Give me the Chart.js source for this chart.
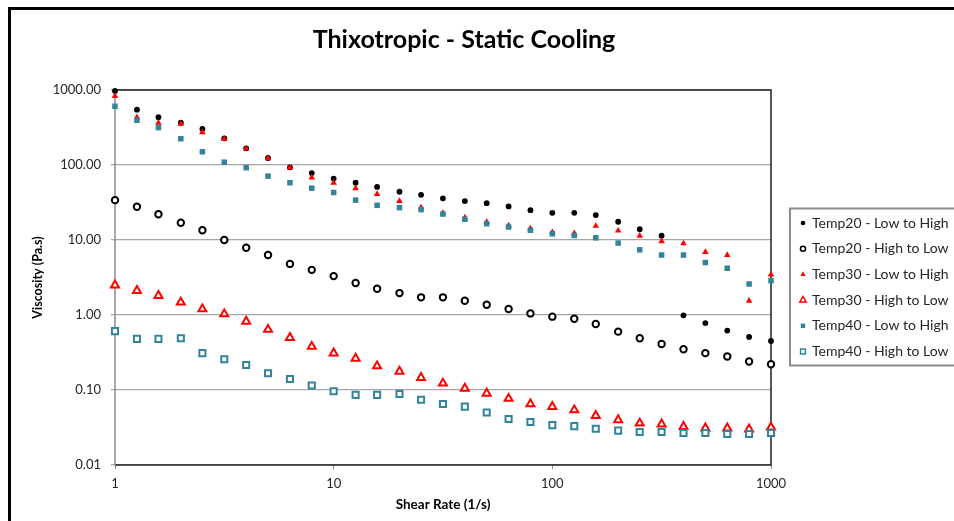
<!DOCTYPE html>
<html>
<head>
<meta charset="utf-8">
<title>Thixotropic - Static Cooling</title>
<script src="https://cdn.jsdelivr.net/npm/chart.js@4.4.1/dist/chart.umd.min.js"></script>
<style>
  body { margin: 0; background: #ffffff; }
  canvas { display: block; }
</style>
</head>
<body>
<canvas id="chart" width="954" height="521"></canvas>
<script>
// Data (shear rate in 1/s, viscosity in Pa.s)
const shearRate = [1, 1.26, 1.58, 2, 2.51, 3.16, 3.98, 5.01, 6.31, 7.94,
  10, 12.6, 15.8, 20, 25.1, 31.6, 39.8, 50.1, 63.1, 79.4,
  100, 126, 158, 200, 251, 316, 398, 501, 631, 794, 1000];

const temp20Up = [970, 547, 433, 366, 302, 227, 167, 124, 93, 78,
  66, 58, 51, 44, 40, 36, 33, 31, 28, 25,
  23, 23, 21.5, 17.5, 13.9, 11.4, 0.99, 0.78, 0.62, 0.51, 0.45];
const temp20Down = [34, 27.8, 22, 17, 13.5, 10, 7.9, 6.3, 4.8, 4.0,
  3.3, 2.67, 2.24, 1.96, 1.72, 1.72, 1.55, 1.37, 1.20, 1.05,
  0.95, 0.89, 0.76, 0.60, 0.49, 0.41, 0.35, 0.31, 0.28, 0.24, 0.22];
const temp30Up = [832, 433, 366, 355, 273, 224, 165, 123, 92, 68,
  58, 49, 41, 33, 27, 22.8, 19.9, 17.3, 15.6, 14.2,
  12.7, 12.3, 15.4, 13.3, 11.4, 9.6, 9.0, 6.9, 6.3, 1.55, 3.45];
const temp30Down = [2.5, 2.11, 1.81, 1.48, 1.20, 1.03, 0.82, 0.64, 0.50, 0.38,
  0.31, 0.264, 0.209, 0.177, 0.146, 0.123, 0.105, 0.090, 0.077, 0.065,
  0.060, 0.054, 0.0455, 0.040, 0.036, 0.035, 0.0325, 0.031, 0.031, 0.030, 0.0318];
const temp40Up = [606, 395, 315, 224, 150, 109, 92, 71, 58, 49,
  43, 34, 29, 27, 25.4, 22.2, 18.9, 16.5, 14.9, 13.5,
  12.1, 11.5, 10.7, 9.1, 7.4, 6.3, 6.3, 5.0, 4.2, 2.59, 2.87];
const temp40Down = [0.61, 0.48, 0.48, 0.49, 0.31, 0.257, 0.215, 0.167, 0.140, 0.115,
  0.096, 0.086, 0.086, 0.0885, 0.074, 0.065, 0.060, 0.050, 0.041, 0.0374,
  0.034, 0.033, 0.0305, 0.0287, 0.0275, 0.0275, 0.0267, 0.0267, 0.0259, 0.0259, 0.0267];

const seriesLabels = ['Temp20 - Low to High', 'Temp20 - High to Low',
  'Temp30 - Low to High', 'Temp30 - High to Low',
  'Temp40 - Low to High', 'Temp40 - High to Low'];
const xTicks = [1, 10, 100, 1000];
const yTicks = [0.01, 0.1, 1, 10, 100, 1000];
const chartTitle = 'Thixotropic - Static Cooling';

const FONT = 'Lato, "Open Sans", sans-serif';
const RED = '#ff0000';
const TEAL = '#31849b';

function points(values) {
  return shearRate.map((x, i) => ({ x: x, y: values[i] }));
}

// one style per series, Excel-like markers
const styles = [
  { pointStyle: 'circle',   radius: 2.9, bg: '#000000', border: '#000000', bw: 0 },
  { pointStyle: 'circle',   radius: 3.2, bg: '#ffffff', border: '#000000', bw: 2 },
  { pointStyle: 'triangle', radius: 3.8, bg: RED,       border: RED,       bw: 0 },
  { pointStyle: 'triangle', radius: 4.6, bg: '#ffffff', border: RED,       bw: 2 },
  { pointStyle: 'rect',     radius: 3.9, bg: TEAL,      border: TEAL,      bw: 0 },
  { pointStyle: 'rect',     radius: 4.3, bg: '#ffffff', border: TEAL,      bw: 2 }
];
const seriesValues = [temp20Up, temp20Down, temp30Up, temp30Down, temp40Up, temp40Down];

const datasets = seriesValues.map((vals, i) => ({
  label: seriesLabels[i],
  data: points(vals),
  showLine: false,
  pointStyle: styles[i].pointStyle,
  pointRadius: styles[i].radius,
  pointHoverRadius: styles[i].radius,
  pointBackgroundColor: styles[i].bg,
  pointBorderColor: styles[i].border,
  pointBorderWidth: styles[i].bw,
  backgroundColor: styles[i].bg,
  borderColor: styles[i].border,
  order: 6 - i,   // later series on top, like Excel
  clip: false
}));

// white page, outer frame, title and plot border
const framePlugin = {
  id: 'frame',
  beforeDraw(chart) {
    const ctx = chart.ctx;
    ctx.save();
    ctx.fillStyle = '#ffffff';
    ctx.fillRect(0, 0, chart.width, chart.height);
    ctx.strokeStyle = '#000000';
    ctx.lineWidth = 3;
    ctx.beginPath();
    ctx.moveTo(9.5, chart.height);
    ctx.lineTo(9.5, 8.5);
    ctx.lineTo(chart.width, 8.5);
    ctx.stroke();
    ctx.fillStyle = '#000000';
    ctx.font = 'bold 25px ' + FONT;
    ctx.textAlign = 'center';
    ctx.textBaseline = 'middle';
    ctx.fillText(chartTitle, 464, 40);
    ctx.restore();
  },
  beforeDatasetsDraw(chart) {
    const { ctx, chartArea: a } = chart;
    ctx.save();
    ctx.lineWidth = 1.5;
    ctx.strokeStyle = '#222222';
    ctx.beginPath();
    ctx.moveTo(a.left, a.top);
    ctx.lineTo(a.right, a.top);
    ctx.lineTo(a.right, a.bottom);
    ctx.lineTo(a.left, a.bottom);
    ctx.stroke();
    ctx.strokeStyle = '#8c8c8c';
    ctx.beginPath();
    ctx.moveTo(a.left, a.top);
    ctx.lineTo(a.left, a.bottom);
    ctx.stroke();
    ctx.restore();
  }
};

function drawMarker(ctx, st, x, y) {
  ctx.fillStyle = st.bg;
  ctx.strokeStyle = st.border;
  ctx.lineWidth = st.bw;
  ctx.beginPath();
  if (st.pointStyle === 'circle') {
    ctx.arc(x, y, st.radius, 0, Math.PI * 2);
  } else if (st.pointStyle === 'triangle') {
    const r = st.radius;
    ctx.moveTo(x, y - r);
    ctx.lineTo(x + r * 0.866, y + r / 2);
    ctx.lineTo(x - r * 0.866, y + r / 2);
    ctx.closePath();
  } else {
    const s = st.radius * Math.SQRT1_2;
    ctx.rect(x - s, y - s, 2 * s, 2 * s);
  }
  ctx.fill();
  if (st.bw) ctx.stroke();
}

// legend box on the right, partly cut by the page edge
const legendPlugin = {
  id: 'sideLegend',
  afterDraw(chart) {
    const ctx = chart.ctx;
    const left = 790, top = 208.5, bottom = 365.5, step = 25.7;
    ctx.save();
    ctx.strokeStyle = '#8c8c8c';
    ctx.lineWidth = 2;
    ctx.strokeRect(left, top, 200, bottom - top);
    ctx.font = '14px ' + FONT;
    ctx.textBaseline = 'middle';
    ctx.textAlign = 'left';
    chart.data.datasets.forEach((ds, i) => {
      const y = 223 + i * step;
      const st = Object.assign({}, styles[i], { radius: styles[i].radius * 0.8 });
      if (st.bw) st.bw = 1.5;
      drawMarker(ctx, st, 803, y);
      ctx.fillStyle = '#262626';
      ctx.fillText(ds.label, 812, y);
    });
    ctx.restore();
  }
};

const config = {
  type: 'scatter',
  data: { datasets },
  options: {
    responsive: false,
    animation: false,
    layout: { padding: { left: 0, top: 90, right: 183, bottom: 0 } },
    plugins: {
      legend: { display: false },
      tooltip: { enabled: false },
      title: { display: false }
    },
    scales: {
      x: {
        type: 'logarithmic',
        min: 1,
        max: 1000,
        afterBuildTicks: (scale) => { scale.ticks = xTicks.map(v => ({ value: v })); },
        afterFit: (scale) => { scale.height = 56; },
        ticks: {
          color: '#262626',
          font: { family: FONT, size: 13 },
          padding: 7,
          maxRotation: 0,
          callback: (v) => String(v)
        },
        grid: { drawOnChartArea: false, drawTicks: true, tickLength: 4, color: '#8c8c8c' },
        border: { display: false },
        title: {
          display: true,
          text: 'Shear Rate (1/s)',
          color: '#000000',
          font: { family: FONT, size: 13.5, weight: 'bold' },
          padding: { top: 0, bottom: 8 }
        }
      },
      y: {
        type: 'logarithmic',
        min: 0.01,
        max: 1000,
        afterBuildTicks: (scale) => { scale.ticks = yTicks.map(v => ({ value: v })); },
        afterFit: (scale) => { scale.width = 115; },
        ticks: {
          color: '#262626',
          font: { family: FONT, size: 13 },
          padding: 10,
          callback: (v) => Number(v).toFixed(2)
        },
        grid: { color: '#a6a6a6', lineWidth: 1.3, tickLength: 4, drawTicks: true },
        border: { display: false },
        title: {
          display: true,
          text: 'Viscosity (Pa.s)',
          color: '#000000',
          font: { family: FONT, size: 12.5, weight: 'bold' },
          padding: { top: 30.5, bottom: 0 }
        }
      }
    }
  },
  plugins: [framePlugin, legendPlugin]
};

const myChart = new Chart(document.getElementById('chart'), config);
</script>
</body>
</html>
